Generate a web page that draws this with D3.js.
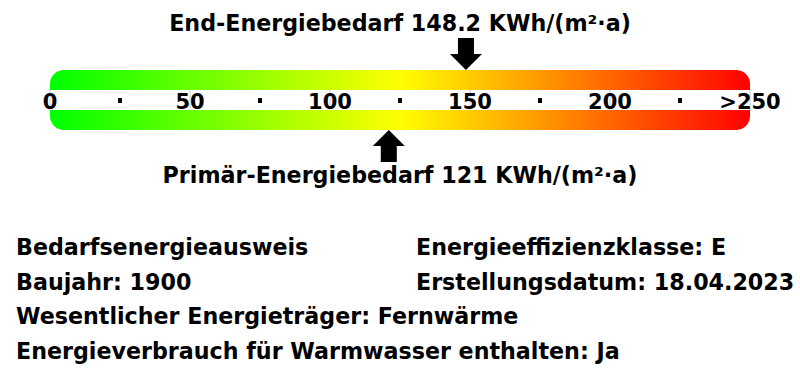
<!DOCTYPE html>
<html>
<head>
<meta charset="utf-8">
<script src="https://cdn.jsdelivr.net/npm/d3@7"></script>
<style>
  body { margin: 0; background: #fff; }
  text { font-family: "DejaVu Sans", sans-serif; font-weight: bold; fill: #000; }
</style>
</head>
<body>
<div id="chart"></div>
<script>
// scale data
const majorTicks = [0, 50, 100, 150, 200, 250];
const majorLabels = ['0', '50', '100', '150', '200', '>250'];
const minorTicks = [25, 75, 125, 175, 225];
const scaleMax = 250;

// values
const endEnergy = 148.2;
const primaryEnergy = 121;
const unit = 'KWh/(m²·a)';

// info block
const infoLeft = ['Bedarfsenergieausweis', 'Baujahr: 1900', 'Wesentlicher Energieträger: Fernwärme', 'Energieverbrauch für Warmwasser enthalten: Ja'];
const infoRight = ['Energieeffizienzklasse: E', 'Erstellungsdatum: 18.04.2023'];

const width = 800, height = 380;
const barTop = 70, barBottom = 130, bandTop = 90, bandBottom = 110;
const textSize = '22.2px';

const svg = d3.select('#chart').append('svg')
    .attr('width', width)
    .attr('height', height);

const x = d3.scaleLinear()
    .domain([0, scaleMax])
    .range([50, 750]);

// gradient green -> yellow -> red
const grad = svg.append('defs').append('linearGradient')
    .attr('id', 'scaleGrad')
    .attr('x1', '0%').attr('x2', '100%')
    .attr('y1', '0%').attr('y2', '0%');
grad.selectAll('stop')
    .data([[0, '#00ff00'], [0.5, '#ffff00'], [1, '#ff0000']])
    .join('stop')
    .attr('offset', d => d[0])
    .attr('stop-color', d => d[1]);

svg.append('rect')
    .attr('x', x(0))
    .attr('y', barTop)
    .attr('width', x(scaleMax) - x(0))
    .attr('height', barBottom - barTop)
    .attr('rx', 14)
    .attr('fill', 'url(#scaleGrad)');

// white band with the axis in it
svg.append('rect')
    .attr('x', x(0))
    .attr('y', bandTop)
    .attr('width', x(scaleMax) - x(0))
    .attr('height', bandBottom - bandTop)
    .attr('fill', '#fff');

svg.selectAll('.major-line')
    .data(majorTicks)
    .join('line')
    .attr('class', 'major-line')
    .attr('x1', d => x(d)).attr('x2', d => x(d))
    .attr('y1', bandTop).attr('y2', bandBottom)
    .attr('stroke', '#ccc')
    .attr('stroke-width', 1);

svg.selectAll('.minor')
    .data(minorTicks)
    .join('rect')
    .attr('class', 'minor')
    .attr('x', d => x(d) - 2)
    .attr('y', 98)
    .attr('width', 4)
    .attr('height', 5)
    .attr('fill', '#000');

svg.selectAll('.major-label')
    .data(majorTicks)
    .join('text')
    .attr('class', 'major-label')
    .attr('x', d => x(d))
    .attr('y', 109)
    .attr('text-anchor', 'middle')
    .style('font-size', '21px')
    .text((d, i) => majorLabels[i]);

// arrows
const shaftW = 16, headW = 32, shaftH = 16, headH = 16;
function arrowPath(cx, tipY, dir) {
  // dir = 1 -> pointing down (tip at bottom), -1 -> pointing up
  const hb = tipY - dir * headH;
  const sb = hb - dir * shaftH;
  return d3.line()([
    [cx, tipY], [cx - headW / 2, hb], [cx - shaftW / 2, hb], [cx - shaftW / 2, sb],
    [cx + shaftW / 2, sb], [cx + shaftW / 2, hb], [cx + headW / 2, hb]
  ]) + 'Z';
}

svg.append('path')
    .attr('d', arrowPath(x(endEnergy) + 1, barTop, 1))
    .attr('fill', '#000');

svg.append('path')
    .attr('d', arrowPath(x(primaryEnergy), barBottom, -1))
    .attr('fill', '#000');

svg.append('text')
    .attr('x', 400)
    .attr('y', 31)
    .attr('text-anchor', 'middle')
    .style('font-size', textSize)
    .text(`End-Energiebedarf ${endEnergy} ${unit}`);

svg.append('text')
    .attr('x', 400)
    .attr('y', 183)
    .attr('text-anchor', 'middle')
    .style('font-size', textSize)
    .text(`Primär-Energiebedarf ${primaryEnergy} ${unit}`);

// info lines
const lineY = i => 255 + i * 34.7;

svg.selectAll('.info-left')
    .data(infoLeft)
    .join('text')
    .attr('class', 'info-left')
    .attr('x', 16)
    .attr('y', (d, i) => lineY(i))
    .style('font-size', textSize)
    .text(d => d);

svg.selectAll('.info-right')
    .data(infoRight)
    .join('text')
    .attr('class', 'info-right')
    .attr('x', 416)
    .attr('y', (d, i) => lineY(i))
    .style('font-size', textSize)
    .text(d => d);
</script>
</body>
</html>
